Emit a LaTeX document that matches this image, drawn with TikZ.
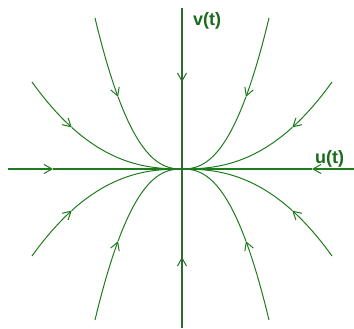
\documentclass[tikz,border=0pt]{standalone}
\usepackage{fontspec}
\setmainfont{Liberation Sans}
\usetikzlibrary{arrows.meta}
\definecolor{trajgreen}{HTML}{1E7B1E}
\definecolor{axisgreen}{HTML}{2F6B2F}
\definecolor{labelgreen}{HTML}{1A6B1A}
\begin{document}
\begin{tikzpicture}[x=1pt,y=1pt,
    traj/.style={trajgreen, line width=1pt},
    flow/.style={-{Straight Barb[length=8pt,width=9pt,line width=1pt 0]}},
    axislabel/.style={labelgreen, font=\fontsize{18}{20}\selectfont\bfseries, inner sep=0pt}]
    \useasboundingbox (-182,-160) rectangle (172,169);

    % Axes end points
    \coordinate (O) at (0,0);
    \coordinate (W) at (-174,0);
    \coordinate (E) at (172,0);
    \coordinate (N) at (0,161);
    \coordinate (S) at (0,-159);
    \coordinate (Wf) at (-129,0);
    \coordinate (Ef) at (130,0);
    \coordinate (Nf) at (0,87);
    \coordinate (Sf) at (0,-88);

    % Horizontal axis
    \draw[traj, line width=1.2pt, flow] (W) -- (Wf);
    \draw[traj, line width=1.2pt] (Wf) -- (O);
    \draw[traj, line width=1.2pt, flow] (E) -- (Ef);
    \draw[traj, line width=1.2pt] (Ef) -- (O);

    % Trajectories in the four quadrants
    \foreach \sx in {-1,1}
      \foreach \sy in {-1,1}
        \foreach \uu/\vv in {87/151,150/87} {
          \draw[traj, flow] plot[domain=1:0.735, samples=15, smooth, variable=\t]
            ({\sx*\uu*\t},{\sy*\vv*\t^2.4});
          \draw[traj] plot[domain=0.735:0.02, samples=40, smooth, variable=\t]
            ({\sx*\uu*\t},{\sy*\vv*\t^2.4}) -- (O);
        }

    % Vertical axis
    \draw[axisgreen, line width=2.4pt] (N) -- (S);
    \draw[axisgreen, flow] (N) -- (Nf);
    \draw[axisgreen, flow] (S) -- (Sf);

    % Labels
    \node[axislabel, anchor=base west] (vlabel) at (11,143) {v(t)};
    \node[axislabel, anchor=base west] (ulabel) at (133,5) {u(t)};
\end{tikzpicture}
\end{document}
